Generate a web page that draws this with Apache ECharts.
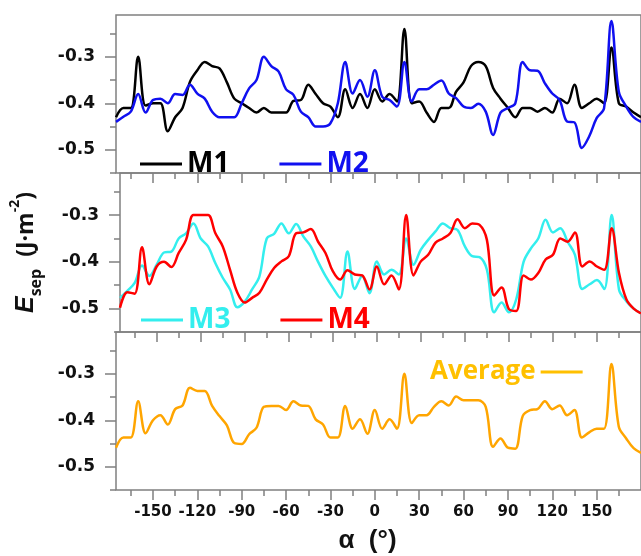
<!DOCTYPE html>
<html>
<head>
<meta charset="utf-8">
<title>E_sep vs alpha</title>
<script src="https://cdn.jsdelivr.net/npm/echarts@6/dist/echarts.min.js"></script>
<style>
  html, body { margin: 0; padding: 0; background: #fff; }
  #main { width: 641px; height: 556px; }
</style>
</head>
<body>
<div id="main"></div>
<script>
// rotation angle alpha (deg), step 5
const alpha = [];
for (let a = -175; a <= 180; a += 5) alpha.push(a);

const m1 = [-0.43, -0.41, -0.41, -0.30, -0.405, -0.40, -0.40, -0.46, -0.43, -0.41, -0.354, -0.329,
    -0.311, -0.32, -0.325, -0.355, -0.39, -0.40, -0.41, -0.42, -0.41, -0.42, -0.42, -0.42,
    -0.395, -0.393, -0.36, -0.38, -0.40, -0.407, -0.43, -0.37, -0.41, -0.38, -0.41, -0.37,
    -0.396, -0.38, -0.396, -0.24, -0.40, -0.396, -0.42, -0.44, -0.41, -0.41, -0.375, -0.355,
    -0.32, -0.311, -0.32, -0.367, -0.39, -0.41, -0.43, -0.41, -0.41, -0.418, -0.41, -0.42,
    -0.39, -0.40, -0.36, -0.41, -0.40, -0.39, -0.40, -0.28, -0.40, -0.407, -0.42, -0.43];
const m2 = [-0.44, -0.429, -0.418, -0.38, -0.42, -0.393, -0.39, -0.40, -0.38, -0.382, -0.36, -0.379,
    -0.39, -0.418, -0.43, -0.43, -0.43, -0.40, -0.368, -0.35, -0.30, -0.32, -0.332, -0.37,
    -0.382, -0.418, -0.43, -0.45, -0.45, -0.443, -0.40, -0.311, -0.379, -0.35, -0.386, -0.329,
    -0.386, -0.393, -0.407, -0.311, -0.396, -0.37, -0.37, -0.36, -0.351, -0.379, -0.389, -0.407,
    -0.41, -0.401, -0.418, -0.468, -0.42, -0.41, -0.40, -0.311, -0.329, -0.33, -0.357, -0.379,
    -0.393, -0.439, -0.441, -0.496, -0.471, -0.432, -0.411, -0.223, -0.375, -0.407, -0.43, -0.44];
const m3 = [-0.477, -0.462, -0.445, -0.408, -0.43, -0.406, -0.38, -0.378, -0.35, -0.339, -0.318, -0.35,
    -0.367, -0.403, -0.434, -0.459, -0.497, -0.485, -0.459, -0.431, -0.35, -0.34, -0.318, -0.339,
    -0.319, -0.346, -0.367, -0.40, -0.43, -0.455, -0.477, -0.378, -0.458, -0.43, -0.467, -0.399,
    -0.427, -0.417, -0.427, -0.35, -0.406, -0.374, -0.353, -0.335, -0.318, -0.328, -0.332, -0.367,
    -0.388, -0.39, -0.417, -0.508, -0.487, -0.508, -0.48, -0.40, -0.371, -0.35, -0.31, -0.337,
    -0.328, -0.357, -0.385, -0.458, -0.448, -0.439, -0.458, -0.30, -0.459, -0.484, -0.50, -0.51];
const m4 = [-0.498, -0.465, -0.468, -0.369, -0.448, -0.41, -0.40, -0.411, -0.381, -0.353, -0.30, -0.30,
    -0.30, -0.339, -0.367, -0.417, -0.466, -0.487, -0.477, -0.466, -0.438, -0.413, -0.399, -0.388,
    -0.339, -0.337, -0.33, -0.357, -0.381, -0.42, -0.438, -0.418, -0.427, -0.429, -0.459, -0.41,
    -0.448, -0.429, -0.459, -0.30, -0.429, -0.399, -0.385, -0.359, -0.35, -0.339, -0.309, -0.328,
    -0.318, -0.321, -0.353, -0.472, -0.455, -0.501, -0.505, -0.429, -0.438, -0.424, -0.395, -0.385,
    -0.35, -0.357, -0.337, -0.41, -0.399, -0.41, -0.417, -0.328, -0.424, -0.48, -0.50, -0.51];
const avg = [-0.459, -0.437, -0.437, -0.359, -0.428, -0.40, -0.389, -0.409, -0.376, -0.368, -0.33, -0.337,
    -0.337, -0.369, -0.391, -0.411, -0.449, -0.451, -0.43, -0.416, -0.371, -0.369, -0.369, -0.378,
    -0.359, -0.368, -0.369, -0.398, -0.409, -0.437, -0.437, -0.369, -0.418, -0.398, -0.429, -0.378,
    -0.418, -0.398, -0.418, -0.30, -0.406, -0.389, -0.389, -0.371, -0.359, -0.368, -0.349, -0.357,
    -0.357, -0.357, -0.371, -0.457, -0.439, -0.459, -0.461, -0.391, -0.378, -0.376, -0.359, -0.376,
    -0.368, -0.389, -0.378, -0.437, -0.426, -0.418, -0.418, -0.279, -0.414, -0.439, -0.46, -0.47];

// ticks
const xMajor = [-150, -120, -90, -60, -30, 0, 30, 60, 90, 120, 150];
const xMinor = [-165, -135, -105, -75, -45, -15, 15, 45, 75, 105, 135, 165];
const yMajor = [-0.5, -0.4, -0.3];
const yMinor = [-0.55, -0.45, -0.35, -0.25];

const axisGray = '#808080';
const tickFont = 'DejaVu Sans';
const legendFont = 'Open Sans';

const panels = [
    {top: 15, height: 158},
    {top: 173, height: 159},
    {top: 332, height: 158}
];

let grid = [], xAxis = [], yAxis = [];
panels.forEach((p, i) => {
    grid.push({
        left: 116, right: -11, top: p.top, height: p.height,
        show: true, borderColor: axisGray, borderWidth: 1.5, backgroundColor: 'transparent'
    });
    const last = i === panels.length - 1;
    // main x axis: long ticks + labels (bottom panel only)
    xAxis.push({
        type: 'value', gridIndex: i, min: -175, max: 180, position: 'bottom',
        splitLine: {show: false},
        axisLine: {show: false, onZero: false},
        axisTick: {show: true, customValues: xMajor, length: 10, lineStyle: {color: axisGray, width: 1.5}},
        axisLabel: {
            show: last, customValues: xMajor, margin: 15,
            color: '#111', fontFamily: tickFont, fontWeight: 'bold', fontSize: 15
        },
        name: last ? 'α  (°)' : '',
        nameLocation: 'middle', nameGap: 38,
        nameTextStyle: {color: '#111', fontFamily: 'Liberation Sans', fontWeight: 'bold', fontSize: 26, padding: [0, 22, 0, 0]}
    });
    // minor x ticks
    xAxis.push({
        type: 'value', gridIndex: i, min: -175, max: 180, position: 'bottom',
        splitLine: {show: false}, axisLine: {show: false, onZero: false}, axisLabel: {show: false},
        axisTick: {show: true, customValues: xMinor, length: 6, lineStyle: {color: axisGray, width: 1.5}}
    });
    yAxis.push({
        type: 'value', gridIndex: i, min: -0.55, max: -0.21, position: 'left',
        splitLine: {show: false},
        axisLine: {show: false, onZero: false},
        axisTick: {show: true, customValues: yMajor, length: 11, lineStyle: {color: axisGray, width: 1.5}},
        axisLabel: {
            customValues: yMajor, margin: 21,
            color: '#111', fontFamily: tickFont, fontWeight: 'bold', fontSize: 17,
            formatter: (v) => v.toFixed(1)
        },
        name: i === 1 ? '{e|E}{sub|sep}{n|  (J·m}{sup|-2}{n|)}' : '',
        nameLocation: 'middle', nameRotate: 90, nameGap: 76,
        nameTextStyle: {
            color: '#111',
            rich: {
                e: {fontFamily: 'Liberation Sans', fontWeight: 'bold', fontStyle: 'italic', fontSize: 25, color: '#111', lineHeight: 30},
                sub: {fontFamily: 'Open Sans', fontWeight: 'bold', fontSize: 16, color: '#111', verticalAlign: 'bottom', lineHeight: 22},
                n: {fontFamily: 'Open Sans', fontWeight: 'bold', fontSize: 23, color: '#111', lineHeight: 30},
                sup: {fontFamily: 'Open Sans', fontWeight: 'bold', fontSize: 14, color: '#111', verticalAlign: 'top', lineHeight: 36}
            }
        }
    });
    yAxis.push({
        type: 'value', gridIndex: i, min: -0.55, max: -0.21, position: 'left',
        splitLine: {show: false}, axisLine: {show: false, onZero: false}, axisLabel: {show: false},
        axisTick: {show: true, customValues: yMinor, length: 6, lineStyle: {color: axisGray, width: 1.5}}
    });
});

const pairs = (vals) => alpha.map((a, k) => [a, vals[k]]);

const lineSeries = (name, vals, color, panel) => ({
    name: name, type: 'line', data: pairs(vals),
    xAxisIndex: panel * 2, yAxisIndex: panel * 2,
    showSymbol: false, smooth: 0.35,
    lineStyle: {color: color, width: 2.5},
    itemStyle: {color: color},
    emphasis: {disabled: true}
});

const colors = {M1: '#000000', M2: '#1010f0', M3: '#33eeee', M4: '#ff0000', Average: '#ffa500'};

const legendBase = {
    icon: 'rect', itemWidth: 42, itemHeight: 3, itemGap: 50, selectedMode: false,
    textStyle: {fontFamily: legendFont, fontWeight: 'bold', fontSize: 28, lineHeight: 30}
};

const option = {
    backgroundColor: '#fff',
    animation: false,
    grid: grid,
    xAxis: xAxis,
    yAxis: yAxis,
    legend: [
        Object.assign({}, legendBase, {
            left: 135, top: 144,
            data: [
                {name: 'M1', textStyle: {color: colors.M1}},
                {name: 'M2', textStyle: {color: colors.M2}}
            ]
        }),
        Object.assign({}, legendBase, {
            left: 136, top: 300,
            data: [
                {name: 'M3', textStyle: {color: colors.M3}},
                {name: 'M4', textStyle: {color: colors.M4}}
            ]
        }),
        Object.assign({}, legendBase, {
            left: 425, top: 352, align: 'right',
            textStyle: {fontFamily: legendFont, fontWeight: 'bold', fontSize: 26, lineHeight: 30},
            data: [
                {name: 'Average', textStyle: {color: '#ffc000'}, itemStyle: {color: '#ffc000'}}
            ]
        })
    ],
    series: [
        lineSeries('M1', m1, colors.M1, 0),
        lineSeries('M2', m2, colors.M2, 0),
        lineSeries('M3', m3, colors.M3, 1),
        lineSeries('M4', m4, colors.M4, 1),
        lineSeries('Average', avg, colors.Average, 2)
    ]
};

const myChart = echarts.init(document.getElementById('main'));
myChart.setOption(option);
</script>
</body>
</html>
